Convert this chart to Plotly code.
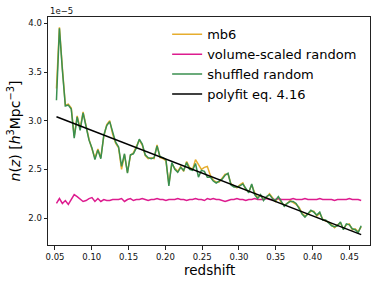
import numpy as np
import plotly.graph_objects as go

# redshift bins
z_start, z_end, n_bins = 0.052, 0.466, 104
redshift = np.linspace(z_start, z_end, n_bins)

# n(z) in units of 1e-5 h^3 Mpc^-3
shuffled = [3.21, 3.95, 3.52, 3.15, 3.16, 3.12, 2.82, 3.04, 2.90, 3.08,
            2.94, 2.80, 2.72, 2.60, 2.70, 2.61, 2.85, 2.95, 2.99, 2.87,
            2.78, 2.73, 2.53, 2.66, 2.46, 2.65, 2.66, 2.72, 2.81, 2.76,
            2.65, 2.62, 2.61, 2.62, 2.74, 2.63, 2.62, 2.60, 2.33, 2.57,
            2.50, 2.47, 2.52, 2.49, 2.57, 2.50, 2.49, 2.56, 2.42, 2.49,
            2.48, 2.42, 2.42, 2.38, 2.36, 2.38, 2.40, 2.44, 2.46, 2.34,
            2.32, 2.32, 2.33, 2.35, 2.30, 2.26, 2.35, 2.24, 2.20, 2.24,
            2.18, 2.22, 2.24, 2.20, 2.18, 2.22, 2.17, 2.12, 2.15, 2.17,
            2.17, 2.15, 2.10, 2.04, 2.01, 2.04, 2.08, 2.06, 2.03, 2.06,
            1.98, 1.98, 1.95, 1.92, 1.91, 1.92, 1.96, 1.88, 1.94, 1.93,
            1.89, 1.88, 1.85, 1.92]

mb6 = [3.33, 3.96, 3.54, 3.16, 3.17, 3.13, 2.84, 3.05, 2.92, 3.09,
       2.95, 2.81, 2.71, 2.62, 2.71, 2.62, 2.84, 2.96, 3.00, 2.86,
       2.77, 2.72, 2.50, 2.65, 2.47, 2.64, 2.67, 2.73, 2.80, 2.75,
       2.64, 2.61, 2.62, 2.61, 2.75, 2.62, 2.61, 2.59, 2.35, 2.56,
       2.51, 2.48, 2.53, 2.48, 2.58, 2.52, 2.50, 2.60, 2.55, 2.50,
       2.52, 2.53, 2.44, 2.39, 2.37, 2.37, 2.41, 2.45, 2.45, 2.35,
       2.33, 2.31, 2.34, 2.36, 2.29, 2.27, 2.34, 2.26, 2.21, 2.23,
       2.19, 2.21, 2.25, 2.21, 2.17, 2.21, 2.16, 2.13, 2.15, 2.18,
       2.16, 2.14, 2.11, 2.05, 2.02, 2.04, 2.07, 2.07, 2.02, 2.05,
       1.99, 1.97, 1.96, 1.93, 1.90, 1.93, 1.95, 1.89, 1.93, 1.94,
       1.88, 1.89, 1.86, 1.91]

volume_scaled = [2.15, 2.20, 2.15, 2.18, 2.14, 2.19, 2.24, 2.22, 2.19, 2.17,
                 2.18, 2.20, 2.21, 2.17, 2.20, 2.17, 2.19, 2.18, 2.18, 2.19,
                 2.19, 2.19, 2.20, 2.17, 2.19, 2.20, 2.18, 2.19, 2.19, 2.20,
                 2.19, 2.18, 2.19, 2.19, 2.20, 2.19, 2.19, 2.18, 2.19, 2.19,
                 2.19, 2.20, 2.19, 2.19, 2.18, 2.19, 2.19, 2.20, 2.19, 2.19,
                 2.18, 2.20, 2.19, 2.20, 2.19, 2.19, 2.18, 2.17, 2.18, 2.19,
                 2.19, 2.20, 2.19, 2.19, 2.18, 2.19, 2.19, 2.20, 2.19, 2.19,
                 2.19, 2.20, 2.19, 2.19, 2.19, 2.20, 2.19, 2.19, 2.19, 2.19,
                 2.20, 2.19, 2.19, 2.19, 2.20, 2.19, 2.19, 2.19, 2.19, 2.20,
                 2.19, 2.19, 2.19, 2.19, 2.18, 2.19, 2.19, 2.19, 2.19, 2.20,
                 2.19, 2.19, 2.19, 2.18]

polyfit_z = [0.052, 0.466]
polyfit_n = [3.04, 1.83]

x_ticks = [0.05, 0.10, 0.15, 0.20, 0.25, 0.30, 0.35, 0.40, 0.45]
x_ticklabels = ["0.05", "0.10", "0.15", "0.20", "0.25", "0.30", "0.35", "0.40", "0.45"]
y_ticks = [2.0, 2.5, 3.0, 3.5, 4.0]
y_ticklabels = ["2.0", "2.5", "3.0", "3.5", "4.0"]

FONT = "DejaVu Sans"

fig = go.Figure()
fig.add_trace(go.Scatter(x=redshift, y=mb6, mode="lines", name="mb6",
                         line=dict(color="#E6AD2E", width=1.5)))
fig.add_trace(go.Scatter(x=redshift, y=volume_scaled, mode="lines",
                         name="volume-scaled random",
                         line=dict(color="#DD1C8F", width=1.5)))
fig.add_trace(go.Scatter(x=redshift, y=shuffled, mode="lines",
                         name="shuffled random",
                         line=dict(color="#3A8F4F", width=1.5)))
fig.add_trace(go.Scatter(x=polyfit_z, y=polyfit_n, mode="lines",
                         name="polyfit eq. 4.16",
                         line=dict(color="black", width=1.5)))

axis_common = dict(showgrid=False, zeroline=False, showline=True,
                   linecolor="#222222", linewidth=1, mirror=True,
                   ticks="outside", ticklen=3.5, tickwidth=0.8,
                   tickcolor="#222222",
                   tickfont=dict(family=FONT, size=8.5, color="#111111"))

fig.update_xaxes(range=[0.0405, 0.478], tickvals=x_ticks, ticktext=x_ticklabels,
                 **axis_common)
fig.update_yaxes(range=[1.723, 4.065], tickvals=y_ticks, ticktext=y_ticklabels,
                 title=dict(text="<i>n</i>(<i>z</i>) [<i>h</i><sup>3</sup>Mpc<sup>−3</sup>]",
                            font=dict(family=FONT, size=14, color="black"),
                            standoff=4),
                 **axis_common)

# x-axis title placed as annotation for exact vertical placement
fig.add_annotation(text="redshift", xref="paper", yref="paper", x=0.5, y=0,
                   xanchor="center", yanchor="top", showarrow=False, yshift=-15,
                   font=dict(family=FONT, size=13.5, color="black"))

fig.add_annotation(text="1e−5", xref="paper", yref="paper", x=0, y=1,
                   xanchor="left", yanchor="bottom", showarrow=False,
                   font=dict(family=FONT, size=8.5, color="#111111"), yshift=-1)

fig.update_layout(
    width=379, height=284,
    margin=dict(l=48, r=9, t=17, b=39),
    paper_bgcolor="white", plot_bgcolor="white",
    showlegend=True,
    legend=dict(x=0.37, y=0.99, xanchor="left", yanchor="top",
                bgcolor="rgba(0,0,0,0)", borderwidth=0,
                font=dict(family=FONT, size=13, color="black"),
                itemwidth=30, tracegroupgap=0),
)

fig.write_html("out.html", config={"displayModeBar": False},
               post_script="document.body.style.margin='0';")
